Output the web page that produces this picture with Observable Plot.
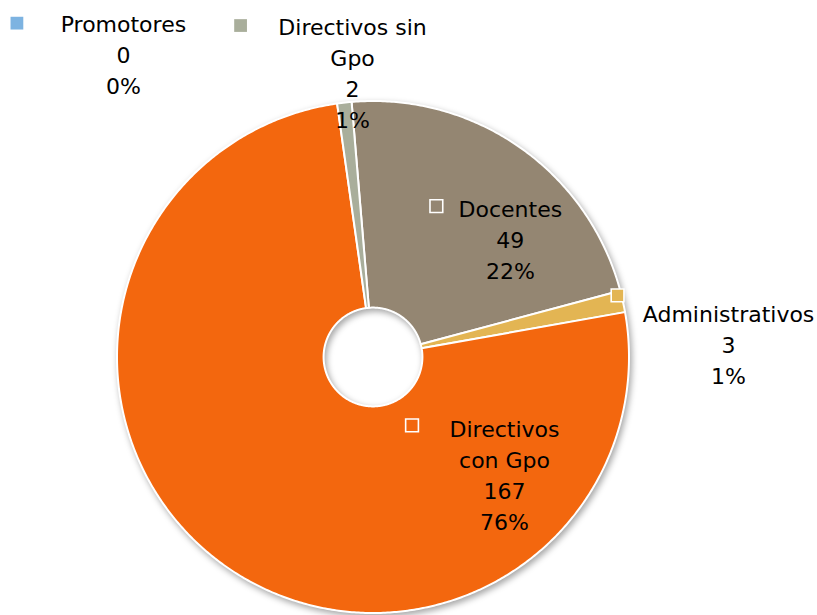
<!DOCTYPE html>
<html><head><meta charset="utf-8">
<script src="https://cdn.jsdelivr.net/npm/d3@7"></script>
<script src="https://cdn.jsdelivr.net/npm/@observablehq/plot@0.6"></script>
<style>body{margin:0;background:#fff;overflow:hidden;}</style>
</head><body><div id="chart"></div>
<script>
// Data (clockwise order as drawn)
const categories = ["Docentes", "Administrativos", "Directivos con Gpo", "Promotores", "Directivos sin Gpo"];
const values = [49, 3, 167, 0, 2];
const colors = ["#948672", "#E3B553", "#F3670E", "#7DB3E1", "#A9AE9B"];
const labelNames = ["Docentes", "Administrativos", "Directivos\ncon Gpo", "Promotores", "Directivos sin\nGpo"];

// Layout (not data)
const startAngle = -4.8;      // degrees from 12 o'clock, clockwise
const innerRadius = 0.193;    // fraction of outer radius
const R = 256;                // px per unit
// label placement: polar angle (deg), radius (units); key offsets in px
const labelAngle = [49.0, 87.8, 131.5, -39.4, -4.1];
const labelRadius = [0.711, 1.390, 0.686, 1.536, 1.116];
const keyDx = [-74, -111, -92.5, -106.5, -112];
const keyDy = [-31.5, -48, -48, -30, -46.5];
const keyBorder = [true, true, true, false, false];

const total = d3.sum(values);
const rad = a => a * Math.PI / 180;

// slice polygons
const slicePts = [];
let acc = startAngle;
values.forEach((v, i) => {
  const span = v / total * 360;
  const a0 = acc, a1 = acc + span;
  acc = a1;
  if (v <= 0) return;
  const n = Math.max(2, Math.ceil(span / 0.5));
  const pts = [];
  for (let k = 0; k <= n; k++) {
    const a = rad(a0 + (a1 - a0) * k / n);
    pts.push({cat: categories[i], x: Math.sin(a), y: Math.cos(a)});
  }
  for (let k = n; k >= 0; k--) {
    const a = rad(a0 + (a1 - a0) * k / n);
    pts.push({cat: categories[i], x: innerRadius * Math.sin(a), y: innerRadius * Math.cos(a)});
  }
  pts.push({...pts[0]});
  slicePts.push(...pts);
});

const labels = categories.map((c, i) => {
  const a = rad(labelAngle[i]);
  const x = labelRadius[i] * Math.sin(a), y = labelRadius[i] * Math.cos(a);
  return {
    cat: c,
    x, y,
    kx: x + keyDx[i] / R,
    ky: y - keyDy[i] / R,
    border: keyBorder[i],
    text: `${labelNames[i]}\n${values[i]}\n${Math.round(values[i] / total * 100)}%`
  };
});

const chart = Plot.plot({
  width: 817,
  height: 615,
  marginLeft: 116.5,
  marginRight: 188.5,
  marginTop: 100.5,
  marginBottom: 2.5,
  x: {domain: [-1, 1], axis: null},
  y: {domain: [-1, 1], axis: null},
  color: {domain: categories, range: colors},
  style: {fontFamily: "DejaVu Sans", background: "white", overflow: "visible"},
  marks: [
    Plot.line(slicePts, {x: "x", y: "y", z: "cat", fill: "cat", stroke: "white", strokeWidth: 2, strokeLinejoin: "round"}),
    Plot.dot(labels, {x: "kx", y: "ky", fill: "cat", symbol: "square", r: 7.2,
      stroke: d => d.border ? "white" : "none", strokeWidth: 1.6}),
    Plot.text(labels, {x: "x", y: "y", text: "text", fill: "black", fontSize: 22,
      fontFamily: "DejaVu Sans", lineHeight: 1.41, textAnchor: "middle", lineAnchor: "middle"})
  ]
});
document.getElementById("chart").appendChild(chart);
d3.select(chart).select('g[aria-label="line"]')
  .style("filter", "drop-shadow(2px 3px 3px rgba(0,0,0,0.35))");
</script>
</body></html>
